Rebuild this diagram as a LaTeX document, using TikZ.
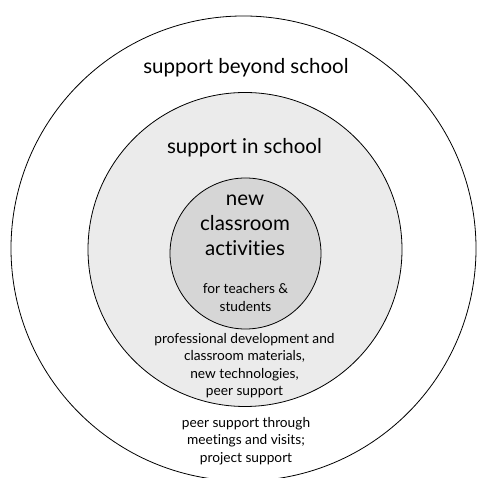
\documentclass[tikz,border=0pt]{standalone}
\usepackage{fontspec}
\setmainfont[Ligatures={NoCommon}]{Lato}
\begin{document}
\begin{tikzpicture}[x=1pt,y=1pt,
  ring/.style={circle,draw=black,line width=0.8pt,inner sep=0pt},
  bigtxt/.style={align=center,font=\fontsize{20.5}{25}\selectfont},
  smalltxt/.style={align=center,font=\fontsize{13.7}{17.5}\selectfont}]
\useasboundingbox (0,0) rectangle (477,478);
\clip (0,0) rectangle (477,478);
\fill[white] (0,0) rectangle (477,478);
\node[ring,fill=white,minimum size=465pt] (outer) at (243.5,229.5) {};
\node[ring,fill=black!8,minimum size=314pt] (middle) at (245,228.5) {};
\node[ring,fill=black!16,minimum size=151pt] (inner) at (245.5,224.5) {};
\node[bigtxt] (beyond) at (246,410) {support beyond school};
\node[bigtxt] (inschool) at (244.5,330) {support in school};
\node[bigtxt] (activities) at (245,253) {new\\classroom\\activities};
\node[smalltxt] (forteach) at (245.5,180.5) {for teachers \&\\students};
\node[smalltxt] (prof) at (244.5,112.5) {professional development and\\classroom materials,\\new technologies,\\peer support};
\node[smalltxt] (peer) at (246,37) {peer support through\\meetings and visits;\\project support};
\end{tikzpicture}
\end{document}
